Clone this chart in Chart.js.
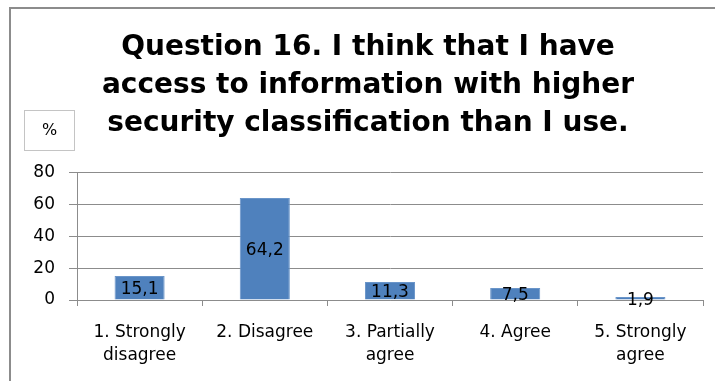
<!DOCTYPE html>
<html>
<head>
<meta charset="utf-8">
<script src="https://cdn.jsdelivr.net/npm/chart.js@4.4.1/dist/chart.umd.min.js"></script>
<style>
  html, body { margin: 0; padding: 0; background: #fff; }
  #wrap { width: 715px; height: 381px; }
</style>
</head>
<body>
<div id="wrap"><canvas id="q16Chart" width="715" height="381"></canvas></div>
<script>
/************** DATA **************/
const categories = [
  ["1. Strongly", "disagree"],
  "2. Disagree",
  ["3. Partially", "agree"],
  "4. Agree",
  ["5. Strongly", "agree"]
];
const percents = [15.1, 64.2, 11.3, 7.5, 1.9];
const titleLines = [
  "Question 16. I think that I have",
  "access to information with higher",
  "security classification than I use."
];
const unitLabel = "%";

const FONT = "'DejaVu Sans', sans-serif";

/************** PLUGINS **************/
// frame of the chart area + the small "%" box
const framePlugin = {
  id: "frame",
  beforeDraw(chart) {
    const ctx = chart.ctx;
    ctx.save();
    ctx.strokeStyle = "#8c8c8c";
    ctx.lineWidth = 2;
    ctx.beginPath();
    ctx.moveTo(10, chart.height);
    ctx.lineTo(10, 8);
    ctx.lineTo(chart.width, 8);
    ctx.stroke();

    ctx.strokeStyle = "#c4c4c4";
    ctx.lineWidth = 1;
    ctx.strokeRect(24.5, 110.5, 50, 40);
    ctx.fillStyle = "#000";
    ctx.font = "16px " + FONT;
    ctx.textAlign = "center";
    ctx.textBaseline = "middle";
    ctx.fillText(unitLabel, 49.5, 131);
    ctx.restore();
  }
};

// value written in the middle of each bar, decimal comma
const valueLabels = {
  id: "valueLabels",
  afterDatasetsDraw(chart) {
    const ctx = chart.ctx;
    const meta = chart.getDatasetMeta(0);
    ctx.save();
    ctx.fillStyle = "#000";
    ctx.font = "17px " + FONT;
    ctx.textAlign = "center";
    ctx.textBaseline = "middle";
    meta.data.forEach((bar, i) => {
      const v = chart.data.datasets[0].data[i];
      ctx.fillText(String(v).replace(".", ","), bar.x, (bar.y + bar.base) / 2 + 2);
    });
    ctx.restore();
  }
};

/************** CHART **************/
const ctx = document.getElementById("q16Chart").getContext("2d");

new Chart(ctx, {
  type: "bar",
  data: {
    labels: categories,
    datasets: [{
      data: percents,
      backgroundColor: "#4f81bd",
      borderColor: "#6a95c9",
      borderWidth: 1,
      barPercentage: 0.4,
      categoryPercentage: 1
    }]
  },
  options: {
    responsive: false,
    animation: false,
    layout: { padding: { top: 10, left: 33, right: 12, bottom: 0 } },
    plugins: {
      legend: { display: false },
      tooltip: { enabled: false },
      title: {
        display: true,
        text: titleLines,
        color: "#000",
        font: { family: FONT, size: 28, weight: "bold", lineHeight: 1.357 },
        padding: { top: 19, bottom: 30 }
      }
    },
    scales: {
      x: {
        grid: {
          offset: true,
          drawOnChartArea: false,
          drawTicks: true,
          tickLength: 6,
          color: "#8c8c8c"
        },
        border: { color: "#8c8c8c" },
        ticks: {
          color: "#000",
          padding: 16,
          maxRotation: 0,
          font: { family: FONT, size: 17, lineHeight: 1.3 }
        },
        afterFit(scale) { scale.height = 81; }
      },
      y: {
        min: 0,
        max: 80,
        ticks: {
          stepSize: 20,
          color: "#000",
          padding: 14,
          font: { family: FONT, size: 17 }
        },
        grid: { color: "#8c8c8c", tickLength: 8 },
        border: { color: "#8c8c8c" },
        afterFit(scale) { scale.width = 44; }
      }
    }
  },
  plugins: [framePlugin, valueLabels]
});
</script>
</body>
</html>
